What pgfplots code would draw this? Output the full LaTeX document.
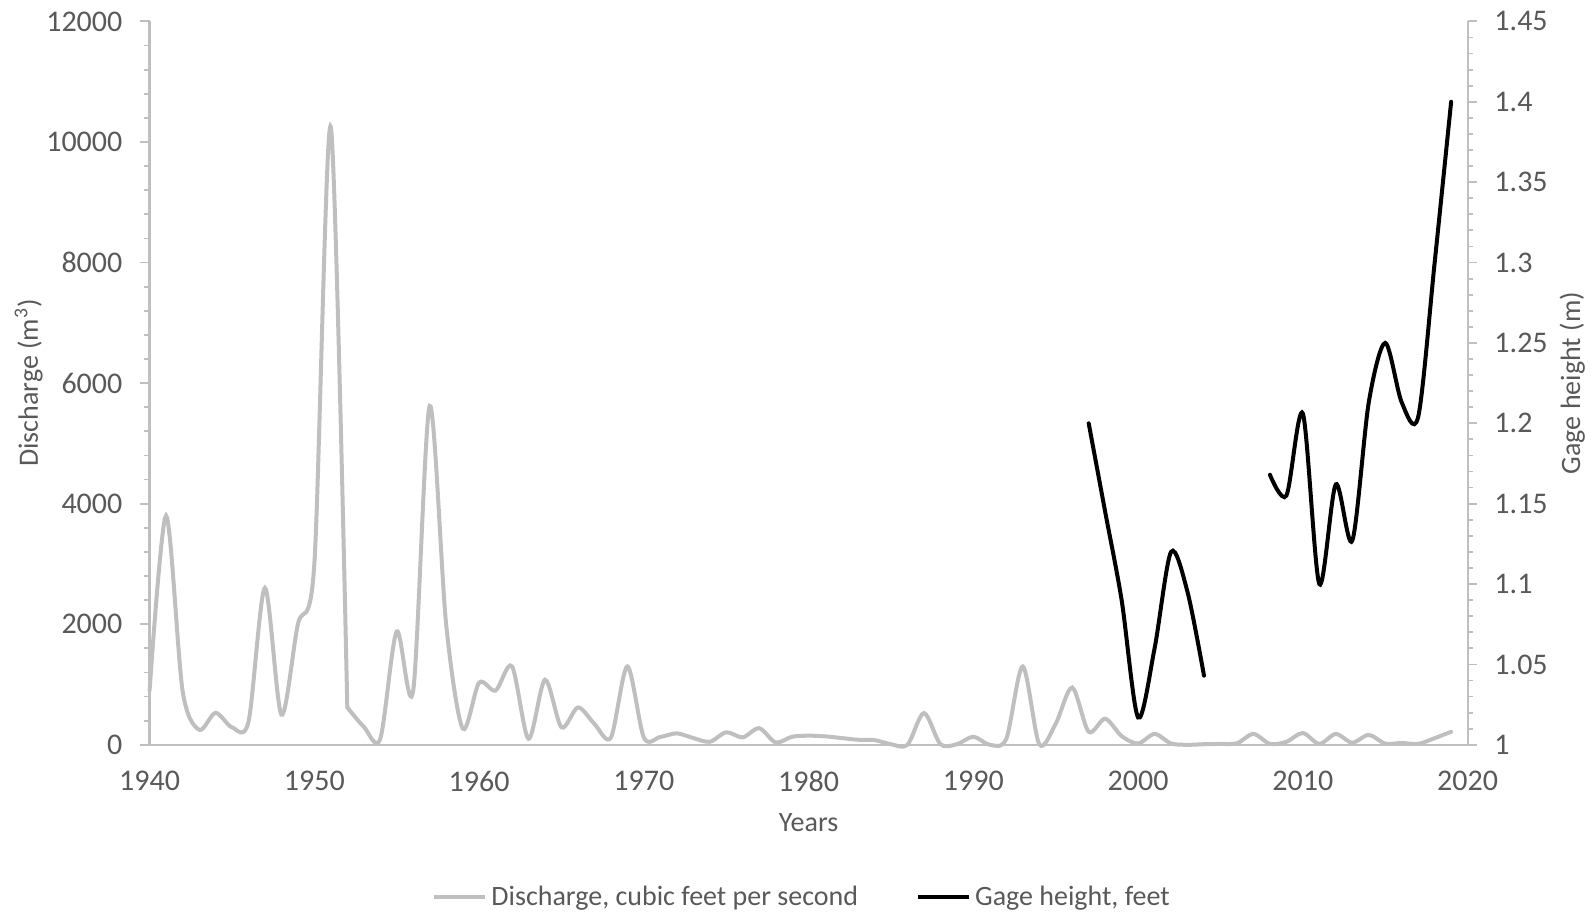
\documentclass[border=0pt]{standalone}
\usepackage{fontspec}
\setmainfont{Carlito}
\usepackage{pgfplots}
\pgfplotsset{compat=1.18}
\definecolor{axisgray}{HTML}{BFBFBF}
\definecolor{textgray}{HTML}{595959}
\definecolor{linegray}{HTML}{BFBFBF}

\pgfplotstableread{
year q
1940 900
1941 3800
1942 900
1943 250
1944 530
1945 290
1946 380
1947 2600
1948 500
1949 2000
1950 3000
1951 10250
1952 620
1953 300
1954 100
1955 1880
1956 900
1957 5620
1958 2000
1959 270
1960 1030
1961 900
1962 1300
1963 100
1964 1080
1965 290
1966 620
1967 347
1968 120
1969 1300
1970 120
1971 130
1972 190
1973 112
1974 50
1975 207
1976 123
1977 275
1978 39
1979 134
1980 151
1981 140
1982 112
1983 84
1984 78
1985 10
1986 0
1987 527
1988 10
1989 10
1990 134
1991 0
1992 100
1993 1300
1994 10
1995 350
1996 950
1997 216
1998 433
1999 144
2000 22
2001 180
2002 22
2003 0
2004 10
2005 15
2006 25
2007 180
2008 15
2009 50
2010 195
2011 15
2012 180
2013 35
2014 165
2015 20
2016 30
2017 15
2018 110
2019 216
}\discharge

\pgfplotstableread{
year h
1997 1.200
1998 1.145
1999 1.090
2000 1.017
2001 1.060
2002 1.120
2003 1.095
2004 1.043
}\gageA

\pgfplotstableread{
year h
2008 1.168
2009 1.155
2010 1.206
2011 1.100
2012 1.162
2013 1.127
2014 1.213
2015 1.250
2016 1.213
2017 1.204
2018 1.300
2019 1.400
}\gageB

\begin{document}
\begin{tikzpicture}
\path[use as bounding box] (0,0) rectangle (798pt,458pt);
\pgfplotsset{
  common/.style={
    at={(74.8pt,85.6pt)}, anchor=south west,
    scale only axis, width=659pt, height=361.7pt,
    xmin=1940, xmax=2020,
    font=\fontsize{14}{16}\selectfont,
    tick label style={font=\fontsize{15}{17}\selectfont, text=textgray},
    label style={font=\fontsize{14}{16}\selectfont, text=textgray},
    /pgf/number format/assume math mode=true,
    /pgf/number format/1000 sep={},
    scaled ticks=false,
    tick align=outside,
    major tick length=4.6pt, minor tick length=2.8pt,
    every tick/.style={axisgray, line width=0.9pt},
    axis line style={axisgray, line width=1.1pt},
    clip=false,
  },
  qline/.style={linegray, line width=2pt, smooth, tension=0.5, line cap=round},
}
\begin{axis}[common,
  axis y line*=left, axis x line*=bottom,
  ymin=0, ymax=12000, ytick={0,2000,...,12000}, minor y tick num=4,
  xtick={1940,1950,...,2020}, xtick style={draw=none},
  xticklabel style={yshift=-5pt},
  yticklabel style={xshift=-5.5pt},
  ylabel={Discharge (m\textsuperscript{3})},
  xlabel={Years},
  ylabel style={at={(axis description cs:-0.0918,0.5)}, anchor=center},
  xlabel style={at={(axis description cs:0.5,-0.1073)}, anchor=center},
]
\addplot[qline, restrict x to domain=1940:1952] table[x=year,y=q] {\discharge};
\addplot[qline, restrict x to domain=1952:2019] table[x=year,y=q] {\discharge};
\end{axis}
\begin{axis}[common,
  axis y line*=right, axis x line=none,
  ymin=1, ymax=1.45, ytick={1,1.05,...,1.46}, minor y tick num=4,
  yticklabel style={xshift=5.3pt, /pgf/number format/precision=2},
  ylabel={Gage height (m)},
  ylabel style={at={(axis description cs:1.0795,0.5)}, anchor=center, rotate=0},
  legend columns=2,
  legend style={at={(0.4958,-0.2104)}, anchor=center, draw=none, fill=none,
    font=\fontsize{14}{16}\selectfont, text=textgray,
    /tikz/every even column/.append style={column sep=27pt}},
  legend image code/.code={\draw[#1] (0pt,0pt) -- (25.5pt,0pt);},
]
\addlegendimage{linegray, line width=2pt}
\addlegendentry{Discharge, cubic feet per second}
\addlegendimage{black, line width=2pt}
\addlegendentry{Gage height, feet}
\addplot[black, line width=2pt, smooth, tension=0.5, line cap=round, forget plot] table[x=year,y=h] {\gageA};
\addplot[black, line width=2pt, smooth, tension=0.5, line cap=round, forget plot] table[x=year,y=h] {\gageB};
\end{axis}
\end{tikzpicture}
\end{document}
